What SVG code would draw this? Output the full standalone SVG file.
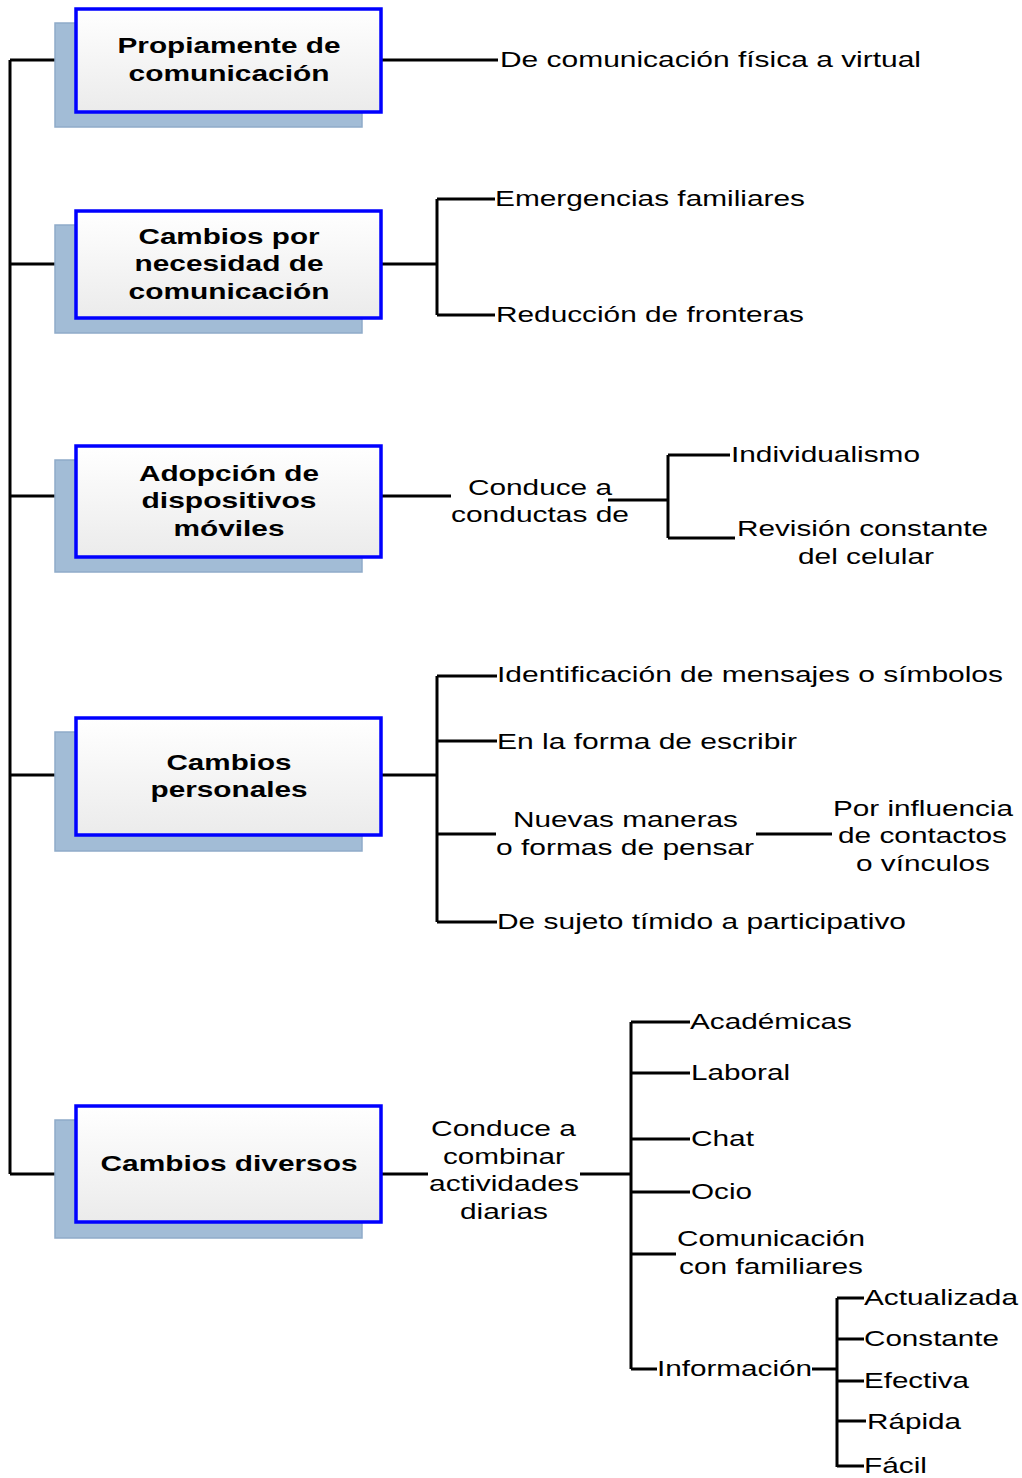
<svg xmlns="http://www.w3.org/2000/svg" width="1022" height="1478" viewBox="0 0 1022 1478">
<defs>
<linearGradient id="boxg" x1="0" y1="0" x2="0" y2="1">
<stop offset="0" stop-color="#ffffff"/>
<stop offset="1" stop-color="#ebebeb"/>
</linearGradient>
<style>
.sh{fill:#a2bcd6;stroke:#8fabc9;stroke-width:1.5}
.bx{fill:url(#boxg);stroke:#0000ff;stroke-width:3.5}
.t{font-family:"Liberation Sans",Arial,sans-serif;font-size:22px;fill:#000}
.b{font-family:"Liberation Sans",Arial,sans-serif;font-size:22px;font-weight:bold;fill:#000;text-anchor:middle}
.c{text-anchor:middle}
.ln{stroke:#000;stroke-width:3;fill:none}
</style>
</defs>
<rect width="1022" height="1478" fill="#fff"/>
<g id="connectors">
<path class="ln" d="M10,60 V1174 M10,60 H76 M10,264 H76 M10,496 H76 M10,775 H76 M10,1174 H76"/>
<path class="ln" d="M381,60 H498"/>
<path class="ln" d="M381,264 H437 M437,199 V315 M437,199 H495 M437,315 H495"/>
<path class="ln" d="M381,496 H451 M608,500 H668 M668,455 V538 M668,455 H730 M668,538 H735"/>
<path class="ln" d="M381,775 H437 M437,676 V922 M437,676 H497 M437,741 H497 M437,834 H496 M437,922 H497 M756,834 H832"/>
<path class="ln" d="M381,1174 H428 M580,1174 H631 M631,1022 V1369 M631,1022 H690 M631,1073 H690 M631,1139 H690 M631,1192 H690 M631,1254 H676 M631,1369 H657 M812,1369 H837 M837,1298 V1467 M837,1298 H864 M837,1339 H864 M837,1381 H864 M837,1421 H866 M837,1466 H864"/>
</g>
<g id="node1">
<rect class="sh" x="55" y="23" width="307" height="104"/>
<rect class="bx" x="76" y="9" width="305" height="103"/>
<text class="b" x="229" y="53" textLength="223" lengthAdjust="spacingAndGlyphs">Propiamente de</text>
<text class="b" x="229" y="81" textLength="201" lengthAdjust="spacingAndGlyphs">comunicación</text>
</g>
<g id="node2">
<rect class="sh" x="55" y="225" width="307" height="108"/>
<rect class="bx" x="76" y="211" width="305" height="107"/>
<text class="b" x="229" y="244" textLength="181" lengthAdjust="spacingAndGlyphs">Cambios por</text>
<text class="b" x="229" y="271" textLength="189" lengthAdjust="spacingAndGlyphs">necesidad de</text>
<text class="b" x="229" y="299" textLength="201" lengthAdjust="spacingAndGlyphs">comunicación</text>
</g>
<g id="node3">
<rect class="sh" x="55" y="460" width="307" height="112"/>
<rect class="bx" x="76" y="446" width="305" height="111"/>
<text class="b" x="229" y="481" textLength="180" lengthAdjust="spacingAndGlyphs">Adopción de</text>
<text class="b" x="229" y="508" textLength="175" lengthAdjust="spacingAndGlyphs">dispositivos</text>
<text class="b" x="229" y="536" textLength="111" lengthAdjust="spacingAndGlyphs">móviles</text>
</g>
<g id="node4">
<rect class="sh" x="55" y="732" width="307" height="119"/>
<rect class="bx" x="76" y="718" width="305" height="117"/>
<text class="b" x="229" y="770" textLength="125" lengthAdjust="spacingAndGlyphs">Cambios</text>
<text class="b" x="229" y="797" textLength="157" lengthAdjust="spacingAndGlyphs">personales</text>
</g>
<g id="node5">
<rect class="sh" x="55" y="1120" width="307" height="118"/>
<rect class="bx" x="76" y="1106" width="305" height="116"/>
<text class="b" x="229" y="1171" textLength="257" lengthAdjust="spacingAndGlyphs">Cambios diversos</text>
</g>
<g id="labels1">
<text class="t" x="500" y="67" textLength="421" lengthAdjust="spacingAndGlyphs">De comunicación física a virtual</text>
</g>
<g id="labels2">
<text class="t" x="495" y="206" textLength="310" lengthAdjust="spacingAndGlyphs">Emergencias familiares</text>
<text class="t" x="496" y="322" textLength="308" lengthAdjust="spacingAndGlyphs">Reducción de fronteras</text>
</g>
<g id="labels3">
<text class="t" x="468" y="495" textLength="144" lengthAdjust="spacingAndGlyphs">Conduce a</text>
<text class="t" x="451" y="522" textLength="178" lengthAdjust="spacingAndGlyphs">conductas de</text>
<text class="t" x="731" y="462" textLength="189" lengthAdjust="spacingAndGlyphs">Individualismo</text>
<text class="t" x="737" y="536" textLength="251" lengthAdjust="spacingAndGlyphs">Revisión constante</text>
<text class="t" x="798" y="564" textLength="136" lengthAdjust="spacingAndGlyphs">del celular</text>
</g>
<g id="labels4">
<text class="t" x="497" y="682" textLength="506" lengthAdjust="spacingAndGlyphs">Identificación de mensajes o símbolos</text>
<text class="t" x="497" y="749" textLength="300" lengthAdjust="spacingAndGlyphs">En la forma de escribir</text>
<text class="t" x="513" y="827" textLength="225" lengthAdjust="spacingAndGlyphs">Nuevas maneras</text>
<text class="t" x="496" y="855" textLength="258" lengthAdjust="spacingAndGlyphs">o formas de pensar</text>
<text class="t" x="833" y="816" textLength="180" lengthAdjust="spacingAndGlyphs">Por influencia</text>
<text class="t" x="838" y="843" textLength="169" lengthAdjust="spacingAndGlyphs">de contactos</text>
<text class="t" x="856" y="871" textLength="134" lengthAdjust="spacingAndGlyphs">o vínculos</text>
<text class="t" x="497" y="929" textLength="409" lengthAdjust="spacingAndGlyphs">De sujeto tímido a participativo</text>
</g>
<g id="labels5">
<text class="t" x="431" y="1136" textLength="145" lengthAdjust="spacingAndGlyphs">Conduce a</text>
<text class="t" x="443" y="1164" textLength="122" lengthAdjust="spacingAndGlyphs">combinar</text>
<text class="t" x="429" y="1191" textLength="150" lengthAdjust="spacingAndGlyphs">actividades</text>
<text class="t" x="460" y="1219" textLength="88" lengthAdjust="spacingAndGlyphs">diarias</text>
<text class="t" x="690" y="1029" textLength="162" lengthAdjust="spacingAndGlyphs">Académicas</text>
<text class="t" x="691" y="1080" textLength="99" lengthAdjust="spacingAndGlyphs">Laboral</text>
<text class="t" x="691" y="1146" textLength="63" lengthAdjust="spacingAndGlyphs">Chat</text>
<text class="t" x="691" y="1199" textLength="61" lengthAdjust="spacingAndGlyphs">Ocio</text>
<text class="t" x="677" y="1246" textLength="188" lengthAdjust="spacingAndGlyphs">Comunicación</text>
<text class="t" x="679" y="1274" textLength="184" lengthAdjust="spacingAndGlyphs">con familiares</text>
<text class="t" x="657" y="1376" textLength="155" lengthAdjust="spacingAndGlyphs">Información</text>
<text class="t" x="864" y="1305" textLength="154" lengthAdjust="spacingAndGlyphs">Actualizada</text>
<text class="t" x="864" y="1346" textLength="135" lengthAdjust="spacingAndGlyphs">Constante</text>
<text class="t" x="864" y="1388" textLength="105" lengthAdjust="spacingAndGlyphs">Efectiva</text>
<text class="t" x="867" y="1429" textLength="94" lengthAdjust="spacingAndGlyphs">Rápida</text>
<text class="t" x="864" y="1473" textLength="63" lengthAdjust="spacingAndGlyphs">Fácil</text>
</g>
</svg>
